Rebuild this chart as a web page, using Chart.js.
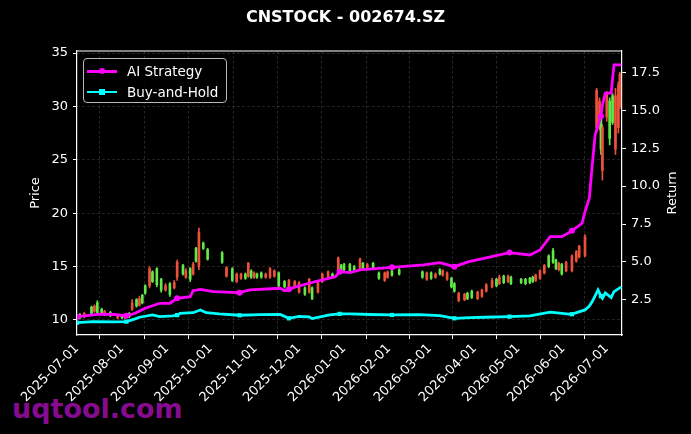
<!DOCTYPE html>
<html>
<head>
<meta charset="utf-8">
<script src="https://cdn.jsdelivr.net/npm/chart.js@4.4.1/dist/chart.umd.min.js"></script>
<style>
  html, body { margin: 0; padding: 0; background: #000; }
  #wrap { position: relative; width: 691px; height: 434px; overflow: hidden; }
  #mark { position: absolute; left: 12px; top: 395px; font: bold 27px "DejaVu Sans"; line-height: 1; color: #860b8f; z-index: 0; }
  #chartBox { position: absolute; left: 0; top: 0; width: 691px; height: 434px; z-index: 1; }
  #legend { position: absolute; left: 83px; top: 58px; width: 144px; height: 45px; box-sizing: border-box;
            border: 1px solid #b8b8b8; border-radius: 4px; background: rgba(0,0,0,0.8); z-index: 2;
            font: 13.5px "DejaVu Sans"; color: #fff; }
  .row { position: absolute; left: 0; height: 18px; width: 100%; }
  .row .ln { position: absolute; left: 3px; top: 8px; width: 30px; height: 2.6px; }
  .row .mk { position: absolute; left: 15px; top: 6px; width: 6px; height: 6px; }
  .row .tx { position: absolute; left: 43px; top: 0; line-height: 18px; white-space: nowrap; }
</style>
</head>
<body>
<div id="wrap">
  <div id="mark">uqtool.com</div>
  <div id="chartBox"><canvas id="myChart" width="691" height="434"></canvas></div>
  <div id="legend"></div>
</div>
<script>
// Eje X: días desde 2025-07-01
const monthDays = [0, 31, 62, 92, 123, 153, 184, 215, 243, 274, 304, 335, 365];
const monthLabels = ["2025-07-01", "2025-08-01", "2025-09-01", "2025-10-01", "2025-11-01", "2025-12-01",
  "2026-01-01", "2026-02-01", "2026-03-01", "2026-04-01", "2026-05-01", "2026-06-01", "2026-07-01"];
const priceTicks = [10, 15, 20, 25, 30, 35];
const returnTicks = [2.5, 5.0, 7.5, 10.0, 12.5, 15.0, 17.5];

// Velas (precio)
const candleDays = [2, 5, 10, 12, 14, 17, 19, 23, 28, 31, 33, 36, 38, 41, 43, 45, 47, 50, 52, 55, 58, 61, 64, 67, 69,
  73, 75, 78, 80, 82, 84, 87, 90, 100, 103, 107, 110, 113, 116, 118, 120, 122, 124, 127, 130, 133, 136, 139, 143,
  146, 150, 153, 157, 160, 162, 166, 169, 173, 176, 180, 182, 184, 188, 191, 195, 197, 200, 204, 208, 212, 214, 217,
  222, 238, 241, 244, 247, 250, 252, 255, 258, 260, 263, 267, 269, 272, 276, 279, 282, 286, 289, 291, 294, 297, 299,
  306, 309, 312, 314, 316, 319, 322, 325, 328, 330, 332, 334, 337, 341, 344, 346, 350, 358, 360, 361, 362, 365, 367,
  369, 371, 373, 374];
const candleOpen = [10.2, 10.6, 10.6, 11.3, 10.7, 10.6, 10.8, 10.4, 10.4, 10.2, 10.4, 10.3, 11.6, 11.3, 12.0, 11.6,
  12.5, 14.8, 13.6, 13.3, 12.8, 13.2, 12.4, 13.5, 15.4, 14.3, 14.6, 13.8, 15.2, 15.5, 18.2, 16.7, 15.7, 15.4, 14.9,
  13.7, 14.3, 14.3, 13.9, 15.3, 14.0, 14.4, 14.0, 14.0, 14.3, 14.8, 14.6, 13.2, 13.1, 13.7, 13.6, 13.5, 12.4, 13.8,
  12.0, 13.5, 14.3, 14.5, 14.1, 15.8, 14.6, 14.7, 14.6, 14.7, 15.7, 14.8, 15.2, 14.8, 13.9, 14.4, 14.5, 14.2, 14.3,
  14.0, 14.4, 13.9, 14.3, 14.3, 14.6, 14.4, 13.1, 12.7, 12.5, 12.4, 12.0, 12.1, 12.6, 12.8, 13.3, 13.7, 13.2, 14.0,
  13.5, 14.1, 13.4, 13.5, 13.4, 13.5, 13.6, 14.2, 14.6, 15.1, 15.0, 15.4, 14.8, 15.3, 14.3, 15.4, 16.0, 16.4, 16.9,
  17.8, 31.5, 30.5, 26.0, 28.0, 31.2, 27.0, 28.5, 31.0, 32.0, 33.0];
const candleHigh = [10.6, 10.7, 11.3, 11.4, 11.8, 11.1, 10.9, 10.8, 10.5, 10.5, 10.5, 10.7, 11.9, 12.0, 12.2, 12.4,
  13.3, 15.0, 14.6, 14.9, 13.9, 13.4, 13.5, 13.7, 15.6, 15.2, 14.8, 14.9, 15.4, 16.8, 18.6, 17.3, 16.7, 16.4, 15.0,
  14.9, 14.4, 14.4, 14.4, 15.4, 14.7, 14.5, 14.4, 14.5, 14.4, 14.9, 14.7, 14.5, 13.7, 13.8, 13.7, 13.6, 13.1, 13.9,
  13.1, 13.6, 14.4, 14.6, 14.4, 15.9, 15.2, 15.3, 15.3, 15.1, 15.8, 15.4, 15.3, 15.4, 14.5, 14.5, 14.6, 14.7, 14.8,
  14.6, 14.5, 14.5, 14.4, 14.8, 14.7, 14.5, 14.0, 13.5, 12.6, 12.5, 12.6, 12.8, 12.7, 12.9, 13.4, 13.9, 13.9, 14.2,
  14.2, 14.2, 14.1, 13.9, 13.9, 14.0, 14.1, 14.3, 14.7, 15.2, 16.1, 16.7, 15.7, 15.4, 15.3, 15.5, 16.1, 16.5, 17.0,
  18.0, 31.7, 30.8, 29.5, 28.3, 31.4, 30.8, 31.2, 31.7, 32.3, 33.2];
const candleLow = [10.1, 10.2, 10.5, 10.7, 10.5, 10.5, 10.4, 10.3, 10.1, 10.1, 10.1, 10.2, 10.9, 11.2, 11.3, 11.5,
  12.4, 13.0, 13.5, 13.1, 12.6, 12.7, 12.2, 12.9, 13.7, 14.2, 13.9, 13.6, 14.2, 15.4, 14.7, 16.6, 15.6, 15.3, 14.0,
  13.6, 13.5, 13.8, 13.8, 14.0, 13.9, 13.9, 13.9, 13.9, 13.9, 13.9, 14.0, 13.1, 13.0, 12.9, 13.0, 12.5, 12.3, 12.5,
  11.9, 12.5, 13.5, 13.9, 14.0, 14.4, 14.5, 14.6, 14.5, 14.6, 14.7, 14.7, 14.7, 14.7, 13.8, 13.6, 13.9, 14.1, 14.2,
  13.9, 13.7, 13.8, 13.9, 14.2, 14.1, 13.7, 13.0, 12.6, 11.7, 11.8, 11.9, 12.0, 11.9, 12.1, 12.6, 13.0, 13.1, 13.3,
  13.4, 13.5, 13.3, 13.4, 13.3, 13.4, 13.5, 13.6, 13.8, 14.3, 14.9, 15.3, 14.7, 14.6, 14.2, 14.5, 14.5, 15.4, 15.8,
  15.9, 27.6, 27.8, 25.5, 23.1, 28.6, 26.4, 28.3, 25.5, 27.5, 29.8];
const candleClose = [10.5, 10.3, 11.2, 10.8, 11.6, 11.0, 10.5, 10.7, 10.2, 10.4, 10.2, 10.6, 11.0, 11.9, 11.4, 12.3,
  13.2, 13.2, 14.5, 14.8, 13.8, 12.8, 13.4, 13.0, 14.0, 15.1, 14.0, 14.8, 14.3, 16.7, 15.0, 17.2, 16.6, 16.3, 14.1,
  14.8, 13.6, 13.9, 14.3, 14.1, 14.6, 14.0, 14.3, 14.4, 14.0, 14.0, 14.1, 14.4, 13.6, 13.0, 13.1, 12.6, 13.0, 12.6,
  13.0, 12.6, 13.6, 14.0, 14.3, 14.5, 15.1, 15.2, 15.2, 15.0, 14.8, 15.3, 14.8, 15.3, 14.4, 13.7, 14.0, 14.6, 14.7,
  14.5, 13.8, 14.4, 14.0, 14.7, 14.2, 13.8, 13.9, 13.4, 11.8, 11.9, 12.5, 12.7, 12.0, 12.2, 12.7, 13.1, 13.8, 13.4,
  14.1, 13.6, 14.0, 13.8, 13.8, 13.9, 14.0, 13.7, 13.9, 14.4, 16.0, 16.5, 15.6, 14.7, 15.2, 14.6, 14.6, 15.5, 15.9,
  16.0, 28.0, 28.0, 29.0, 24.0, 29.0, 30.5, 31.0, 26.0, 28.0, 30.0];

// Curvas de retorno
const aiDays = [0, 16, 26, 34, 40, 47, 57, 64, 69, 78, 80, 85, 94, 112, 119, 140, 143, 146, 150, 160, 167, 178, 181,
  188, 195, 217, 239, 250, 260, 270, 281, 298, 312, 319, 326, 334, 341, 348, 350, 353, 355, 357, 361, 362, 364, 368,
  370, 375];
const aiReturn = [1.40, 1.56, 1.54, 1.45, 1.62, 1.95, 2.28, 2.28, 2.61, 2.72, 3.11, 3.20, 3.05, 2.98, 3.16, 3.27, 3.11,
  3.20, 3.34, 3.60, 3.77, 4.03, 4.36, 4.30, 4.48, 4.65, 4.81, 4.96, 4.69, 5.02, 5.25, 5.62, 5.46, 5.79, 6.67, 6.67,
  7.05, 7.55, 8.32, 9.20, 11.39, 13.37, 14.60, 15.35, 16.12, 16.12, 17.98, 17.98];
const bhDays = [0, 11, 26, 34, 40, 43, 52, 57, 66, 69, 71, 80, 85, 89, 98, 112, 126, 140, 146, 153, 160, 162, 174,
  181, 188, 202, 217, 236, 250, 260, 271, 281, 298, 312, 326, 339, 341, 350, 353, 355, 359, 361, 362, 364, 368, 370, 375];
const bhReturn = [1.00, 1.07, 1.05, 1.07, 1.25, 1.36, 1.51, 1.40, 1.45, 1.50, 1.62, 1.66, 1.84, 1.66, 1.58, 1.49, 1.53,
  1.54, 1.29, 1.41, 1.38, 1.27, 1.51, 1.58, 1.58, 1.54, 1.51, 1.53, 1.47, 1.29, 1.33, 1.36, 1.40, 1.45, 1.69, 1.56,
  1.56, 1.84, 2.10, 2.39, 3.16, 2.75, 2.61, 2.96, 2.65, 3.05, 3.36];
const markerDays = [0, 34, 69, 112, 146, 181, 217, 260, 298, 341, 361];

const upColor = "rgb(98,232,72)";
const downColor = "rgb(236,82,58)";
const aiColor = "#ff00ff";
const bhColor = "#00ffff";

// Leyenda dentro del área del gráfico
const legendItems = [
  { label: "AI Strategy", color: aiColor, round: true },
  { label: "Buy-and-Hold", color: bhColor, round: false },
];
const legendBox = document.querySelector("#legend");
legendBox.innerHTML = legendItems.map((item, i) => `
  <div class="row" style="top:${3 + i * 20.5}px">
    <div class="ln" style="background:${item.color}"></div>
    <div class="mk" style="background:${item.color};border-radius:${item.round ? "50%" : "0"}"></div>
    <div class="tx">${item.label}</div>
  </div>`).join("");

const candleColors = candleDays.map((d, i) => candleClose[i] >= candleOpen[i] ? upColor : downColor);
const wickData = candleDays.map((d, i) => ({ x: d, y: [candleLow[i], candleHigh[i]] }));
const bodyData = candleDays.map((d, i) => ({ x: d, y: [candleOpen[i], candleClose[i]] }));
const aiData = aiDays.map((d, i) => ({ x: d, y: aiReturn[i] }));
const bhData = bhDays.map((d, i) => ({ x: d, y: bhReturn[i] }));

const markerRadius = (ctx) => (ctx.raw && markerDays.includes(ctx.raw.x)) ? 3 : 0;

const font = "'DejaVu Sans', sans-serif";
const gridColor = "rgba(255,255,255,0.22)";

const config = {
  data: {
    datasets: [
      {
        type: "line", label: "AI Strategy", data: aiData, yAxisID: "yR", order: 0,
        borderColor: aiColor, backgroundColor: aiColor, borderWidth: 2.8,
        pointRadius: markerRadius, pointHoverRadius: 0, pointStyle: "circle", pointBorderWidth: 0, tension: 0,
      },
      {
        type: "line", label: "Buy-and-Hold", data: bhData, yAxisID: "yR", order: 0,
        borderColor: bhColor, backgroundColor: bhColor, borderWidth: 2.8,
        pointRadius: markerRadius, pointHoverRadius: 0, pointStyle: "rect", pointBorderWidth: 0, tension: 0,
      },
      {
        type: "bar", label: "wick", data: wickData, yAxisID: "y", order: 2, grouped: false,
        backgroundColor: candleColors, barThickness: 1, borderSkipped: false,
      },
      {
        type: "bar", label: "body", data: bodyData, yAxisID: "y", order: 1, grouped: false,
        backgroundColor: candleColors, barThickness: 2, minBarLength: 1, borderSkipped: false,
      },
    ],
  },
  options: {
    responsive: false,
    animation: false,
    events: [],
    layout: { padding: 0 },
    plugins: {
      legend: { display: false },
      tooltip: { enabled: false },
      title: {
        display: true, text: "CNSTOCK - 002674.SZ", color: "#fff",
        font: { family: font, size: 16, weight: "bold", lineHeight: 1.2 },
        padding: { top: 8.5, bottom: 23.3 },
      },
    },
    scales: {
      x: {
        type: "linear", min: 0, max: 375.5, offset: false,
        afterBuildTicks: (s) => { s.ticks = monthDays.map((v) => ({ value: v })); },
        afterFit: (s) => { s.height = 99; },
        ticks: {
          callback: (v) => monthLabels[monthDays.indexOf(v)],
          autoSkip: false, maxRotation: 45, minRotation: 45,
          color: "#fff", font: { family: font, size: 13 }, padding: 2,
        },
        grid: { color: gridColor, lineWidth: 0.7, tickColor: "#fff", tickLength: 4, tickWidth: 1 },
        border: { color: "#fff", width: 1.2, dash: [2.5, 2.5] },
      },
      y: {
        type: "linear", position: "left", min: 8.59, max: 35.19,
        afterBuildTicks: (s) => { s.ticks = priceTicks.map((v) => ({ value: v })); },
        afterFit: (s) => { s.width = 77; },
        ticks: { color: "#fff", font: { family: font, size: 13 }, padding: 5 },
        grid: { color: gridColor, lineWidth: 0.7, tickColor: "#fff", tickLength: 4, tickWidth: 1 },
        border: { color: "#fff", width: 1.2, dash: [2.5, 2.5] },
        title: { display: true, text: "Price", color: "#fff", font: { family: font, size: 13 }, padding: { top: 28 } },
      },
      yR: {
        type: "linear", position: "right", min: 0.19, max: 18.9,
        afterBuildTicks: (s) => { s.ticks = returnTicks.map((v) => ({ value: v })); },
        afterFit: (s) => { s.width = 69; },
        ticks: { color: "#fff", font: { family: font, size: 13 }, padding: 5, callback: (v) => Number(v).toFixed(1) },
        grid: { drawOnChartArea: false, tickColor: "#fff", tickLength: 4, tickWidth: 1 },
        border: { color: "#fff", width: 1.2 },
      },
    },
  },
  plugins: [{
    // Marco superior del área y título del eje derecho leído de abajo hacia arriba (como matplotlib)
    id: "frameAndRightTitle",
    afterDraw: (chart) => {
      const { ctx, chartArea } = chart;
      const yR = chart.scales.yR;
      ctx.save();
      ctx.strokeStyle = "#fff";
      ctx.lineWidth = 1.2;
      ctx.beginPath();
      ctx.moveTo(chartArea.left, chartArea.top);
      ctx.lineTo(chartArea.right, chartArea.top);
      ctx.stroke();
      ctx.translate(yR.right - 18, (chartArea.top + chartArea.bottom) / 2);
      ctx.rotate(-Math.PI / 2);
      ctx.fillStyle = "#fff";
      ctx.font = "13px 'DejaVu Sans'";
      ctx.textAlign = "center";
      ctx.textBaseline = "middle";
      ctx.fillText("Return", 0, 0);
      ctx.restore();
    },
  }],
};

const myChart = document.querySelector("#myChart");
myChart.chart = new Chart(myChart, config);
</script>
</body>
</html>
